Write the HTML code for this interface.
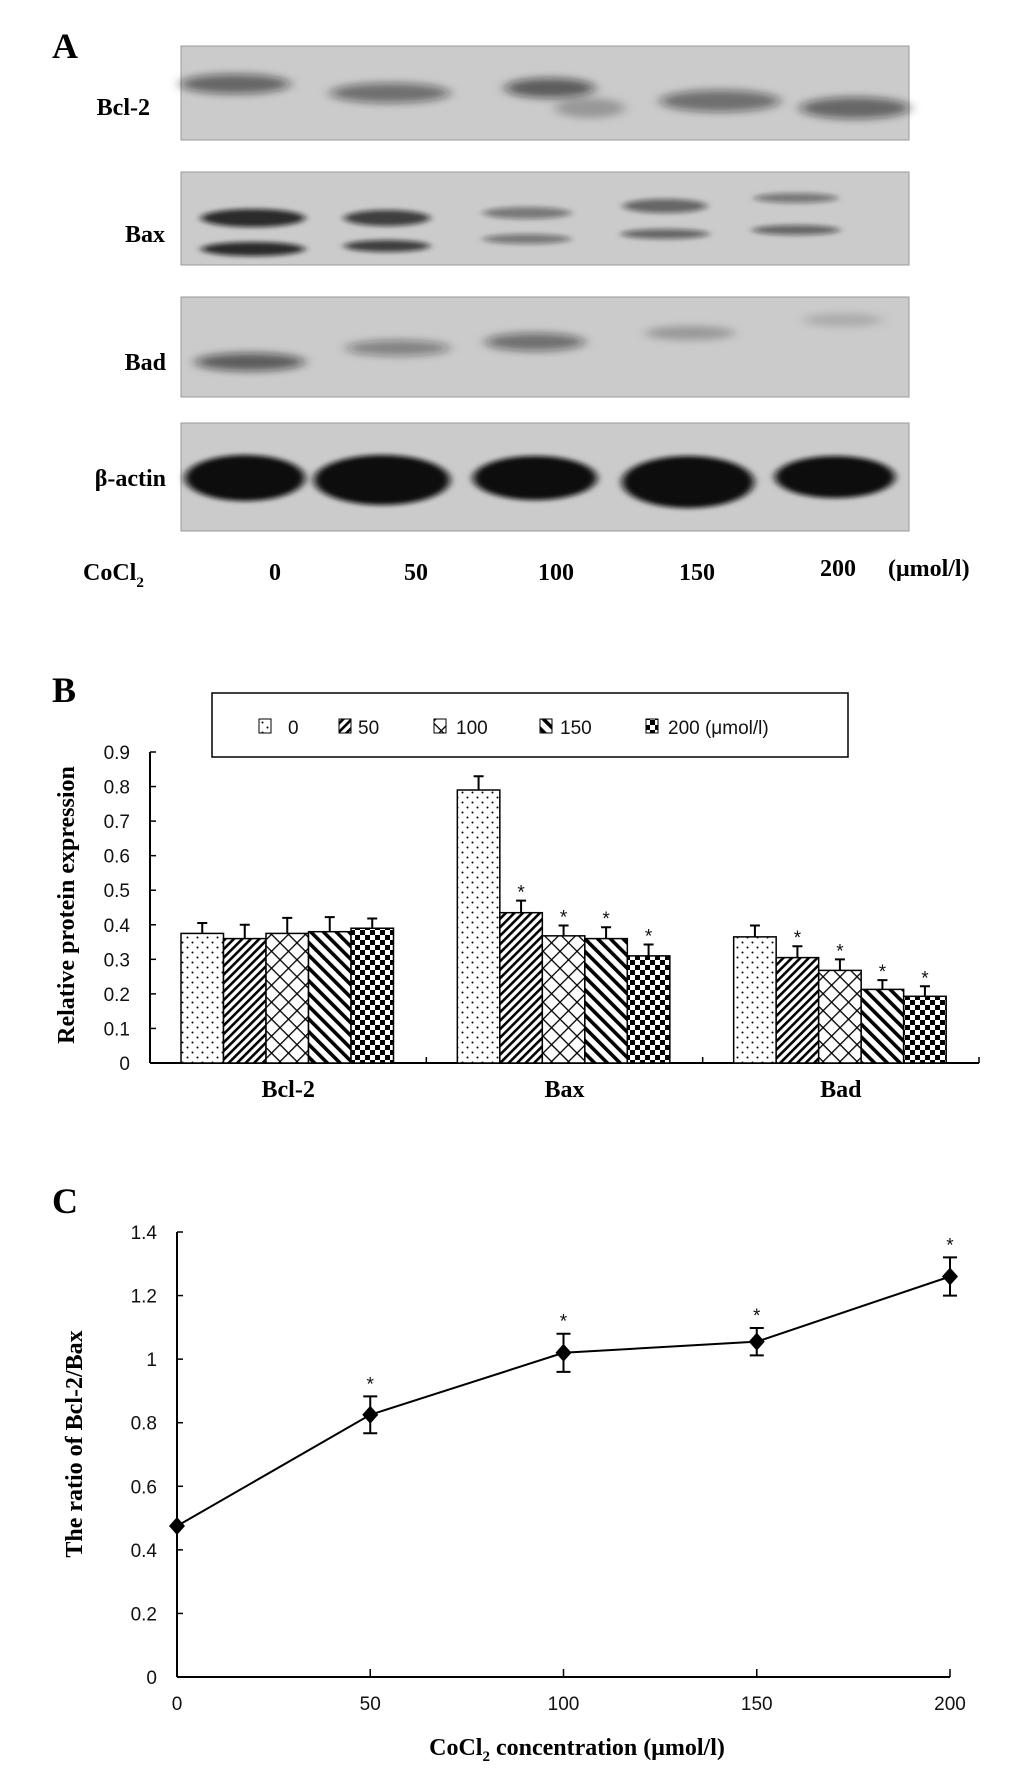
<!DOCTYPE html>
<html><head><meta charset="utf-8">
<style>
html,body{margin:0;padding:0;background:#fff;}
body{width:1034px;height:1775px;position:relative;overflow:hidden;}
svg{position:absolute;left:0;top:0;}
.serif{font-family:"Liberation Serif",serif;font-weight:bold;}
.tick{font-family:"Liberation Sans Narrow","Liberation Sans",sans-serif;font-size:19px;fill:#111;}
</style></head>
<body>
<svg id="fig" width="1034" height="1775" viewBox="0 0 1034 1775" xmlns="http://www.w3.org/2000/svg">
<defs>
<filter id="blur6" x="-30%" y="-100%" width="160%" height="300%"><feGaussianBlur stdDeviation="6 4"/></filter>
<filter id="blur3" x="-30%" y="-100%" width="160%" height="300%"><feGaussianBlur stdDeviation="4 2.5"/></filter>
<pattern id="p0" width="10" height="10" patternUnits="userSpaceOnUse"><rect width="10" height="10" fill="#fff"/><circle cx="2.5" cy="2.5" r="1" fill="#000"/><circle cx="7.5" cy="7.5" r="1" fill="#000"/></pattern>
<pattern id="p1" width="6" height="6" patternUnits="userSpaceOnUse" patternTransform="rotate(45)"><rect width="6" height="6" fill="#fff"/><rect width="2.6" height="6" fill="#000"/></pattern>
<pattern id="p2" width="12" height="12" patternUnits="userSpaceOnUse" patternTransform="rotate(45)"><rect width="12" height="12" fill="#fff"/><rect width="1.3" height="12" fill="#000"/><rect width="12" height="1.3" fill="#000"/></pattern>
<pattern id="p3" width="9" height="9" patternUnits="userSpaceOnUse" patternTransform="rotate(-45)"><rect width="9" height="9" fill="#fff"/><rect width="3.6" height="9" fill="#000"/></pattern>
<pattern id="p4" width="10" height="10" patternUnits="userSpaceOnUse"><rect width="10" height="10" fill="#fff"/><rect width="5" height="5" fill="#000"/><rect x="5" y="5" width="5" height="5" fill="#000"/></pattern>
</defs>

<!-- Panel A -->
<text class="serif" x="52" y="58" font-size="36">A</text>
<g id="blots"></g>
<g class="serif" font-size="24" text-anchor="end">
<text x="150" y="115">Bcl-2</text>
<text x="165" y="242">Bax</text>
<text x="166" y="370">Bad</text>
<text x="166" y="486">β-actin</text>
</g>
<g class="serif" font-size="24">
<text x="83" y="580">CoCl<tspan font-size="15" dy="7">2</tspan></text>
<g text-anchor="middle">
<text x="275" y="580">0</text>
<text x="416" y="580">50</text>
<text x="556" y="580">100</text>
<text x="697" y="580">150</text>
<text x="838" y="576">200</text>
</g>
<text x="888" y="576">(μmol/l)</text>
</g>

<!-- Panel B -->
<text class="serif" x="52" y="702" font-size="36">B</text>
<rect x="212" y="693" width="636" height="64" fill="#fff" stroke="#000" stroke-width="1.5"/>
<g id="legend"></g>
<g id="barChart"></g>
<text class="serif" font-size="24" transform="translate(74,905) rotate(-90)" text-anchor="middle">Relative protein expression</text>

<!-- Panel C -->
<text class="serif" x="52" y="1213" font-size="36">C</text>
<g id="lineChart"></g>
<text class="serif" font-size="24" transform="translate(82,1444) rotate(-90)" text-anchor="middle">The ratio of Bcl-2/Bax</text>
<text class="serif" font-size="24" x="577" y="1755" text-anchor="middle">CoCl<tspan font-size="15" dy="6">2</tspan><tspan dy="-6"> concentration (μmol/l)</tspan></text>
</svg>

<script>
// ---- Bar chart data ----
const barCategories = ["Bcl-2", "Bax", "Bad"];
const seriesNames = ["0", "50", "100", "150", "200"];
const bcl2Values = [0.375, 0.36, 0.375, 0.38, 0.39];
const bcl2Err = [0.03, 0.04, 0.045, 0.042, 0.028];
const baxValues = [0.79, 0.435, 0.368, 0.36, 0.31];
const baxErr = [0.04, 0.035, 0.03, 0.033, 0.033];
const badValues = [0.365, 0.305, 0.268, 0.213, 0.193];
const badErr = [0.033, 0.033, 0.032, 0.027, 0.029];
const barSig = [[0,0,0,0,0],[0,1,1,1,1],[0,1,1,1,1]];
const barTicks = ["0","0.1","0.2","0.3","0.4","0.5","0.6","0.7","0.8","0.9"];

// ---- Line chart data ----
const lineX = [0, 50, 100, 150, 200];
const lineY = [0.475, 0.825, 1.02, 1.055, 1.26];
const lineErr = [0.0, 0.058, 0.06, 0.043, 0.06];
const lineSig = [0, 1, 1, 1, 1];
const lineYTicks = ["0","0.2","0.4","0.6","0.8","1","1.2","1.4"];
const lineXTicks = ["0","50","100","150","200"];

const NS = "http://www.w3.org/2000/svg";
function mk(tag, attrs, parent){const e=document.createElementNS(NS,tag);for(const k in attrs)e.setAttribute(k,attrs[k]);parent.appendChild(e);return e;}

// ---- Blots ----
(function(){
  const g=document.getElementById('blots');
  const panels=[[46,140,'bcl2-blot'],[172,265,'bax-blot'],[297,397,'bad-blot'],[423,531,'actin-blot']];
  panels.forEach(p=>{
    const r=mk('rect',{x:181,y:p[0],width:728,height:p[1]-p[0],fill:'#cbcbcb',stroke:'#999','stroke-width':1},g);
    
    
  });
  const bands=[
    [235,84,55,10,0.55,'blur6'],[390,93,60,10,0.5,'blur6'],[550,88,45,10,0.6,'blur6'],[590,108,35,10,0.25,'blur6'],[720,101,60,11,0.5,'blur6'],[855,108,55,11,0.55,'blur6'],
    [253,218,52,9,0.85,'blur3'],[253,249,52,7,0.85,'blur3'],[387,218,43,8,0.75,'blur3'],[387,246,43,6,0.75,'blur3'],
    [527,213,44,6,0.45,'blur3'],[527,239,44,5,0.45,'blur3'],[665,206,42,7,0.55,'blur3'],[665,234,44,5,0.55,'blur3'],[796,198,42,5,0.45,'blur3'],[796,230,44,5,0.55,'blur3'],
    [250,362,55,9,0.6,'blur6'],[398,348,52,8,0.4,'blur6'],[535,342,50,9,0.5,'blur6'],[690,333,45,7,0.25,'blur6'],[843,320,40,7,0.15,'blur6'],
    [245,478,60,23,1,'blur3'],[382,480,68,25,1,'blur3'],[535,478,62,22,1,'blur3'],[688,482,66,26,1,'blur3'],[835,477,60,21,1,'blur3']
  ];
  bands.forEach(b=>{
    const e=mk('ellipse',{cx:b[0],cy:b[1],rx:b[2],ry:b[3],fill:'#111','fill-opacity':b[4],filter:'url(#'+b[5]+')'},g);
    
    
  });
})();

// ---- Legend ----
(function(){
  const g=document.getElementById('legend');
  const xs=[[259,285],[339,355],[434,453],[540,557],[646,665]];
  seriesNames.forEach((s,i)=>{
    const r=mk('rect',{x:xs[i][0],y:719,width:12,height:14,fill:'url(#p'+i+')',stroke:'#000','stroke-width':1},g);
    
    
    const t=mk('text',{x:xs[i][1]-13+16,y:734,class:'tick','font-size':22},g);
    t.textContent = i===4 ? s+' (μmol/l)' : s;
    
    
  });
})();

// ---- Bar chart ----
(function(){
  const g=document.getElementById('barChart');
  const x0=150, x1=979, y0=1063, yTop=752, vmax=0.9;
  const yS=v=>y0-(v/vmax)*(y0-yTop);
  const gw=(x1-x0)/barCategories.length, off=31, bw=42.5;
  const allVals=[bcl2Values,baxValues,badValues], allErr=[bcl2Err,baxErr,badErr];
  mk('line',{x1:x0,y1:yTop,x2:x0,y2:y0,stroke:'#000','stroke-width':2},g);
  mk('line',{x1:x0,y1:y0,x2:x1,y2:y0,stroke:'#000','stroke-width':2},g);
  barTicks.forEach((t,i)=>{
    const v=parseFloat(t), y=yS(v);
    const l=mk('line',{x1:x0,y1:y,x2:x0+6,y2:y,stroke:'#000','stroke-width':1.5},g);
    
    
    const tx=mk('text',{x:130,y:y+7,class:'tick','text-anchor':'end'},g);
    tx.textContent=t;
    
    
  });
  for(let k=1;k<=barCategories.length;k++){
    const l=mk('line',{x1:x0+gw*k,y1:y0,x2:x0+gw*k,y2:y0-6,stroke:'#000','stroke-width':1.5},g);
    
  }
  barCategories.forEach((c,ci)=>{
    const gx=x0+gw*ci;
    allVals[ci].forEach((v,si)=>{
      const bx=gx+off+bw*si, y=yS(v);
      const r=mk('rect',{x:bx,y:y,width:bw,height:y0-y,fill:'url(#p'+si+')',stroke:'#000','stroke-width':1.5},g);
      
      
      const ey=yS(v+allErr[ci][si]), cx=bx+bw/2;
      const e=mk('path',{d:'M'+cx+' '+y+'V'+ey+'M'+(cx-5)+' '+ey+'H'+(cx+5),stroke:'#000','stroke-width':2,fill:'none'},g);
      
      
      if(barSig[ci][si]){
        const s=mk('text',{x:cx,y:ey-2,class:'tick','text-anchor':'middle','font-size':22},g);
        s.textContent='*';
        
        
      }
    });
    const t=mk('text',{x:gx+gw/2,y:1097,class:'serif','text-anchor':'middle','font-size':24},g);
    t.textContent=c;
    
    
  });
})();

// ---- Line chart ----
(function(){
  const g=document.getElementById('lineChart');
  const x0=177, x1=950, y0=1677, yTop=1232, ymax=1.4, xmax=200;
  const xS=v=>x0+(v/xmax)*(x1-x0), yS=v=>y0-(v/ymax)*(y0-yTop);
  mk('line',{x1:x0,y1:yTop,x2:x0,y2:y0,stroke:'#000','stroke-width':2},g);
  mk('line',{x1:x0,y1:y0,x2:x1,y2:y0,stroke:'#000','stroke-width':2},g);
  lineYTicks.forEach(t=>{
    const y=yS(parseFloat(t));
    const l=mk('line',{x1:x0,y1:y,x2:x0+6,y2:y,stroke:'#000','stroke-width':1.5},g);
    
    
    const tx=mk('text',{x:157,y:y+7,class:'tick','text-anchor':'end'},g);
    tx.textContent=t;
    
    
  });
  lineXTicks.forEach(t=>{
    const x=xS(parseFloat(t));
    const l=mk('line',{x1:x,y1:y0,x2:x,y2:y0-8,stroke:'#000','stroke-width':1.5},g);
    
    
    const tx=mk('text',{x:x,y:1710,class:'tick','text-anchor':'middle'},g);
    tx.textContent=t;
    
    
  });
  const pts=lineX.map((x,i)=>xS(x)+','+yS(lineY[i])).join(' ');
  const pl=mk('polyline',{points:pts,fill:'none',stroke:'#000','stroke-width':2},g);
  
  
  lineX.forEach((xv,i)=>{
    const cx=xS(xv), cy=yS(lineY[i]);
    if(lineErr[i]>0){
      const yt=yS(lineY[i]+lineErr[i]), yb=yS(lineY[i]-lineErr[i]);
      const e=mk('path',{d:'M'+cx+' '+yt+'V'+yb+'M'+(cx-7)+' '+yt+'H'+(cx+7)+'M'+(cx-7)+' '+yb+'H'+(cx+7),stroke:'#000','stroke-width':2,fill:'none'},g);
      
      
    }
    const d=mk('path',{d:'M'+cx+' '+(cy-9)+'L'+(cx+8)+' '+cy+'L'+cx+' '+(cy+9)+'L'+(cx-8)+' '+cy+'Z',fill:'#000'},g);
    
    
    if(lineSig[i]){
      const s=mk('text',{x:cx,y:yS(lineY[i]+lineErr[i])-6,class:'tick','text-anchor':'middle','font-size':22},g);
      s.textContent='*';
      
      
    }
  });
})();
</script>
</body></html>
